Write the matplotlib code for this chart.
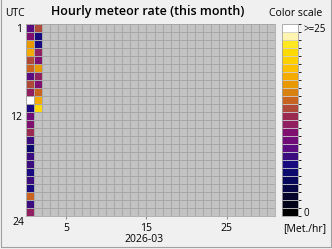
import numpy as np
import matplotlib
matplotlib.use("Agg")
import matplotlib.pyplot as plt
from matplotlib.colors import ListedColormap, BoundaryNorm
from matplotlib.cm import ScalarMappable
from matplotlib.patches import Rectangle

plt.rcParams['font.family'] = ['Open Sans', 'DejaVu Sans']

# hourly meteor rates, one value per UTC hour (1..24); days without data are left out
day1 = [9, 11, 17, 18, 14, 15, 9, 14, 12, 25, 7, 10, 11, 13, 8, 6, 8, 8, 7, 8, 7, 15, 8, 12]
day2 = [14, 7, 7, 12, 11, 17, 12, 11, 15, 18, 21]
n_days = 31
n_hours = 24
month_label = "2026-03"
x_ticks = [5, 15, 25]
y_ticks = ["1", "12", "24"]
rate_max = 25

# color scale from 0 (bottom) up to >=25 (top)
scale_colors = ['#000000', '#020218', '#04042c', '#060644', '#08085a', '#0c0a6c',
                '#1a0a80', '#3a0c80', '#5a0c80', '#700c78', '#801070', '#902060',
                '#9a2a50', '#b04a38', '#c86420', '#d88010', '#e89800', '#f5aa00',
                '#ffc000', '#ffd000', '#ffda00', '#ffe820', '#fff5b0', '#ffffff']

rates = np.full((n_hours, n_days), np.nan)
rates[:len(day1), 0] = day1
rates[:len(day2), 1] = day2

cmap = ListedColormap(scale_colors)
cmap.set_bad('#c3c3c3')
norm = BoundaryNorm(np.linspace(0, rate_max, len(scale_colors) + 1), len(scale_colors), clip=True)

W, H = 332, 249
fig = plt.figure(figsize=(W / 100, H / 100), dpi=100, facecolor='#f0f0f0')

def px(x, y):
    return x / W, 1 - y / H

ax = fig.add_axes([26 / W, 1 - 216 / H, 249 / W, 192 / H])
ax.pcolormesh(np.arange(n_days + 1), np.arange(n_hours + 1), rates,
              cmap=cmap, norm=norm, edgecolors='#a8a8a8', linewidth=0.6)
ax.set_xlim(0, n_days)
ax.set_ylim(n_hours, 0)
ax.set_xticks(x_ticks)
ax.set_xticklabels([str(t) for t in x_ticks], fontsize=7.5)
ax.set_yticks([0.5, 11.5])
ax.set_yticklabels(y_ticks[:2], fontsize=7.5)
ax.tick_params(axis='y', length=0, pad=3)
ax.tick_params(axis='x', length=2.5, color='#909090', pad=2.5)
for s in ax.spines.values():
    s.set_color('#a8a8a8')
    s.set_linewidth(0.6)

# "24" sits below the last row
fig.text(*px(24, 222.5), y_ticks[2], ha='right', va='center', fontsize=7.5)

# color scale
cax = fig.add_axes([282 / W, 1 - 216 / H, 16 / W, 192 / H])
cb = fig.colorbar(ScalarMappable(norm=norm, cmap=cmap), cax=cax, drawedges=True)
cb.outline.set_edgecolor('#a0a0a0')
cb.outline.set_linewidth(0.6)
cb.dividers.set_color('#d0d0d0')
cb.dividers.set_linewidth(0.6)
half = rate_max / len(scale_colors) / 2
cb.set_ticks([half, rate_max - half])
cb.set_ticklabels(['0', '>=25'])
cax.tick_params(length=0, pad=4, labelsize=7)

fig.text(*px(15, 13.5), 'UTC', ha='center', va='center', fontsize=7.5)
fig.text(*px(147.5, 12), 'Hourly meteor rate (this month)', ha='center', va='center',
         fontsize=9, fontweight='semibold')
fig.text(*px(295.5, 14), 'Color scale', ha='center', va='center', fontsize=7.5)
fig.text(*px(305, 229), '[Met./hr]', ha='center', va='center', fontsize=7.5)
fig.text(*px(144, 239.5), month_label, ha='center', va='center', fontsize=7.5)

fig.patches.append(Rectangle((1 / W, 2 / H), 329.5 / W, 1.2, transform=fig.transFigure,
                             fill=False, edgecolor='#a0a0a0', linewidth=0.8))

fig.savefig('out.png', dpi=100, facecolor=fig.get_facecolor())
